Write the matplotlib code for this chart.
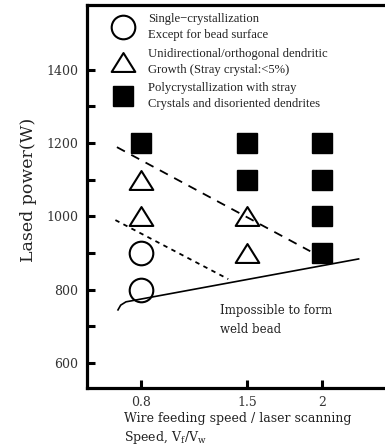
import matplotlib
matplotlib.use("Agg")
import matplotlib.pyplot as plt
from matplotlib.lines import Line2D
from matplotlib.path import Path

# data
ratio_ticks = [0.8, 1.5, 2]
power_ticks = [600, 800, 1000, 1200, 1400]

circle_x = [0.8, 0.8]
circle_y = [800, 900]
triangle_x = [0.8, 0.8, 1.5, 1.5]
triangle_y = [1000, 1100, 1000, 900]
square_x = [0.8, 1.5, 1.5, 2, 2, 2, 2]
square_y = [1200, 1200, 1100, 1200, 1100, 1000, 900]

# lower limit (solid), boundaries (dashed / dotted)
limit_x = [0.647, 0.665, 0.70, 2.24]
limit_y = [745, 758, 767, 884]
dash_x = [0.64, 1.92]
dash_y = [1189, 905]
dot_x = [0.63, 1.377]
dot_y = [990, 829]

tri = Path([(-1, -0.8), (1, -0.8), (0, 0.8), (-1, -0.8)], closed=True)

fig = plt.figure(figsize=(3.85, 4.48), dpi=100)
ax = fig.add_axes([0.226, 0.134, 0.78, 0.855])

ax.plot(circle_x, circle_y, 'o', ms=17, mfc='white', mec='black', mew=1.5, ls='none')
ax.plot(triangle_x, triangle_y, marker=tri, ms=17, mfc='white', mec='black', mew=1.5, ls='none')
ax.plot(square_x, square_y, 's', ms=14, color='black', ls='none')

ax.plot(limit_x, limit_y, '-', color='black', lw=1.2)
ax.plot(dash_x, dash_y, color='black', lw=1.3, dashes=(5, 4))
ax.plot(dot_x, dot_y, color='black', lw=1.3, dashes=(2.5, 2.5))

ax.text(1.324, 762, "Impossible to form\nweld bead", fontsize=8.5, color='#222222',
        family='DejaVu Serif', va='top', linespacing=1.6)

ax.set_xlim(0.442, 2.43)
ax.set_ylim(532, 1577)
ax.set_xticks(ratio_ticks)
ax.set_xticklabels(['0.8', '1.5', '2'])
ax.set_yticks(power_ticks)
ax.set_yticks([700, 900, 1100, 1300], minor=True)
ax.tick_params(which='both', direction='in', length=6, width=2.2, labelsize=9)
ax.tick_params(axis='y', pad=6.5)
ax.tick_params(axis='x', pad=6)
for lab in ax.get_xticklabels() + ax.get_yticklabels():
    lab.set_family('DejaVu Serif')
    lab.set_color('#333333')

for side in ['left', 'top', 'bottom']:
    ax.spines[side].set_linewidth(2.3)
ax.spines['right'].set_visible(False)

ax.set_ylabel("Lased power(W)", fontsize=12.5, family='DejaVu Serif', color='#222222')
ax.yaxis.set_label_coords(-0.167, 0.517)
fig.text(0.322, 0.042, "Wire feeding speed / laser scanning\nSpeed, V$_\\mathregular{f}$/V$_\\mathregular{w}$",
         fontsize=9, family='DejaVu Serif', va='center', linespacing=1.35, color='#222222')

handles = [
    Line2D([], [], marker='o', ms=17, mfc='white', mec='black', mew=1.5, ls='none'),
    Line2D([], [], marker=tri, ms=17, mfc='white', mec='black', mew=1.5, ls='none'),
    Line2D([], [], marker='s', ms=14, color='black', ls='none'),
]
labels = [
    "Single\u2212crystallization\nExcept for bead surface",
    "Unidirectional/orthogonal dendritic\nGrowth (Stray crystal:<5%)",
    "Polycrystallization with stray\nCrystals and disoriented dendrites",
]
leg = ax.legend(handles, labels, loc='upper left', bbox_to_anchor=(0.062, 1.0), frameon=False,
                prop={'family': 'Liberation Serif', 'size': 9.1}, labelspacing=0.5,
                handletextpad=1.2, handlelength=1.5, borderaxespad=0.25)
for t in leg.get_texts():
    t.set_linespacing(1.45)
    t.set_color('#222222')

fig.savefig("out.png", dpi=100)
